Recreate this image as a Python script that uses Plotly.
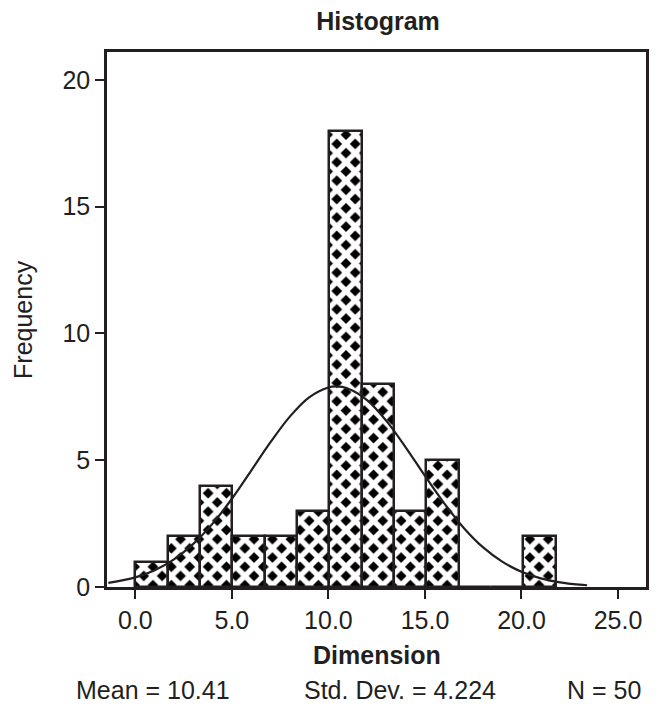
import plotly.graph_objects as go

# ---- data ----
bin_centers = [0.84, 2.51, 4.19, 5.86, 7.54, 9.21, 10.89, 12.56, 14.24, 15.91, 17.59, 19.26, 20.94]
frequencies = [1, 2, 4, 2, 2, 3, 18, 8, 3, 5, 0, 0, 2]
bin_width = 1.675

curve_x = [-1.4, 0, 1, 2, 3, 4, 5, 6, 7, 8, 9, 10, 10.41, 11, 12, 13, 14, 15, 16, 17, 18, 19, 20, 21, 22, 23, 23.4]
curve_y = [0.16, 0.38, 0.66, 1.09, 1.70, 2.50, 3.48, 4.59, 5.71, 6.72, 7.48, 7.87, 7.91, 7.83, 7.37, 6.55, 5.51,
           4.38, 3.30, 2.34, 1.57, 1.00, 0.60, 0.34, 0.18, 0.09, 0.07]

x_tickvals = [0, 5, 10, 15, 20, 25]
x_ticktext = ["0.0", "5.0", "10.0", "15.0", "20.0", "25.0"]
y_tickvals = [0, 5, 10, 15, 20]
y_ticktext = ["0", "5", "10", "15", "20"]

title_text = "Histogram"
x_title = "Dimension"
y_title = "Frequency"
stats = ["Mean = 10.41", "Std. Dev. = 4.224", "N = 50"]

INK = "#231f20"
FONT = "Liberation Sans, Arial, sans-serif"
FS = 25

fig = go.Figure()
fig.add_trace(go.Bar(
    x=bin_centers, y=frequencies, width=bin_width,
    marker=dict(
        color="black",
        line=dict(color=INK, width=2.5),
        pattern=dict(shape="x", bgcolor="black", fgcolor="white",
                     fillmode="replace", size=13, solidity=0.66),
    ),
    showlegend=False,
))
fig.add_trace(go.Scatter(
    x=curve_x, y=curve_y, mode="lines",
    line=dict(color=INK, width=2.2, shape="spline"),
    showlegend=False,
))

fig.update_layout(
    width=661, height=706,
    margin=dict(l=107, r=12, t=52, b=119),
    paper_bgcolor="white", plot_bgcolor="white",
    bargap=0,
    font=dict(family=FONT, size=FS, color=INK),
    title=dict(text="<b>" + title_text + "</b>", x=(107 + 649) / 2 / 661, xanchor="center",
               y=1 - 21 / 706, yanchor="middle", font=dict(size=FS, color=INK)),
    xaxis=dict(range=[-1.47, 26.45], tickvals=x_tickvals, ticktext=x_ticktext,
               showline=True, linecolor=INK, linewidth=2.5, mirror=True,
               ticks="outside", ticklen=9, tickwidth=2, tickcolor=INK,
               showgrid=False, zeroline=False),
    yaxis=dict(range=[0, 21.1], tickvals=y_tickvals, ticktext=y_ticktext,
               showline=True, linecolor=INK, linewidth=2.5, mirror=True,
               ticks="outside", ticklen=9, tickwidth=2, tickcolor=INK,
               showgrid=False, zeroline=False),
)

annos = [
    dict(text="<b>" + x_title + "</b>", x=0.5, y=-(655 - 587) / 535),
    dict(text=y_title, x=(22 - 107) / 542, y=0.5, textangle=-90),
    dict(text=stats[0], x=(153 - 107) / 542, y=-(690 - 587) / 535),
    dict(text=stats[1], x=(402 - 107) / 542, y=-(690 - 587) / 535),
    dict(text=stats[2], x=(607 - 107) / 542, y=-(690 - 587) / 535),
]
for a in annos:
    fig.add_annotation(xref="paper", yref="paper", showarrow=False,
                       xanchor="center", yanchor="middle",
                       font=dict(family=FONT, size=FS, color=INK), **a)

fig.write_html("out.html", config={"displayModeBar": False},
               post_script="document.body.style.margin='0';")
